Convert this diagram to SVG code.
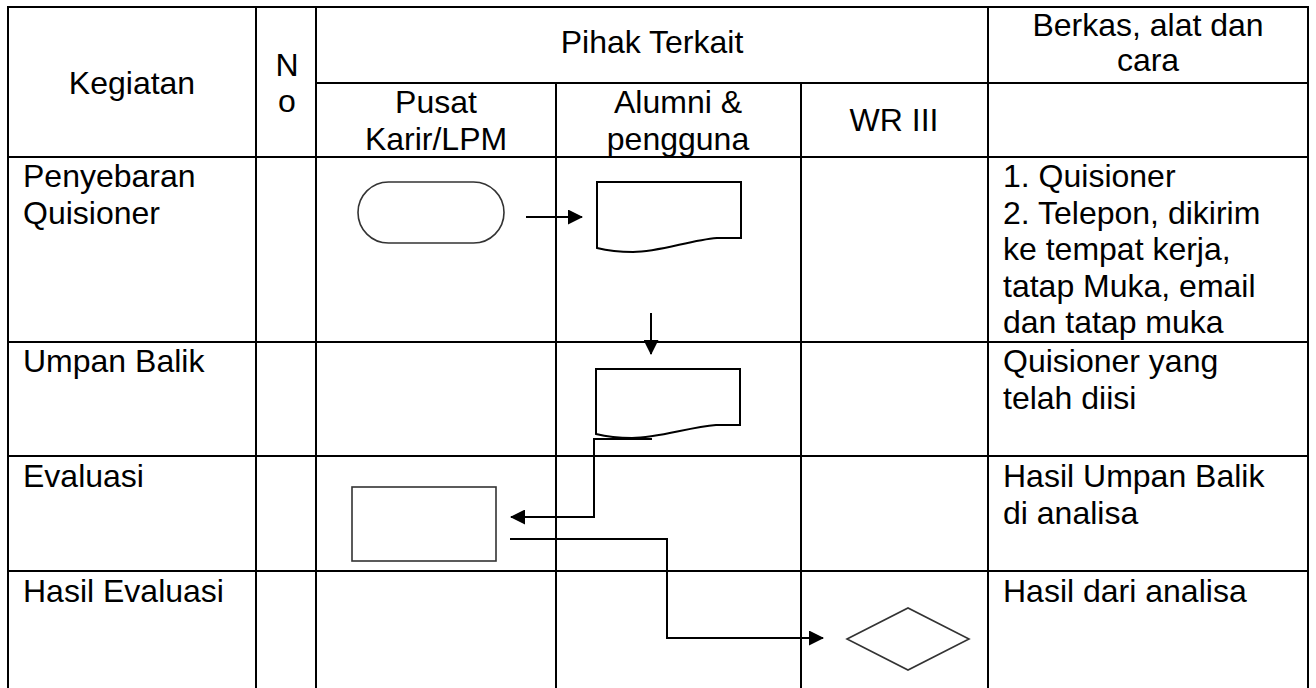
<svg xmlns="http://www.w3.org/2000/svg" width="1316" height="688" viewBox="0 0 1316 688">
<style>
.t{font-family:"Liberation Sans",Arial,sans-serif;font-size:32px;fill:#000}
.c{text-anchor:middle}
.grid line{stroke:#000;stroke-width:2}
.shape{fill:#fff;stroke:#000;stroke-width:2}
.shape2{fill:#fff;stroke:#333;stroke-width:1.6}
.conn{fill:none;stroke:#000;stroke-width:2}
</style>
<defs>
<marker id="ah" markerUnits="userSpaceOnUse" markerWidth="15" markerHeight="15" viewBox="0 0 15 15" refX="14" refY="7.5" orient="auto">
<path d="M0,0 L15,7.5 L0,15 z" fill="#000"/>
</marker>
</defs>
<rect width="1316" height="688" fill="#fff"/>
<g id="table" class="grid">
<line x1="7" y1="7" x2="1309" y2="7"/>
<line x1="316" y1="83" x2="1309" y2="83"/>
<line x1="7" y1="157" x2="1309" y2="157"/>
<line x1="7" y1="342" x2="1309" y2="342"/>
<line x1="7" y1="456" x2="1309" y2="456"/>
<line x1="7" y1="571" x2="1309" y2="571"/>
<line x1="8" y1="6" x2="8" y2="688"/>
<line x1="256" y1="6" x2="256" y2="688"/>
<line x1="316" y1="6" x2="316" y2="688"/>
<line x1="556" y1="83" x2="556" y2="688"/>
<line x1="801" y1="83" x2="801" y2="688"/>
<line x1="988" y1="6" x2="988" y2="688"/>
<line x1="1308" y1="6" x2="1308" y2="688"/>
</g>
<g id="header">
<text class="t c" x="132" y="94">Kegiatan</text>
<text class="t c" x="287" y="76">N</text>
<text class="t c" x="287" y="112">o</text>
<text class="t c" x="652" y="53">Pihak Terkait</text>
<text class="t c" x="1148" y="36">Berkas, alat dan</text>
<text class="t c" x="1148" y="71">cara</text>
<text class="t c" x="436" y="113">Pusat</text>
<text class="t c" x="436" y="150">Karir/LPM</text>
<text class="t c" x="678" y="113">Alumni &amp;</text>
<text class="t c" x="678" y="150">pengguna</text>
<text class="t c" x="894" y="131">WR III</text>
</g>
<g id="activities">
<text class="t" x="23" y="187">Penyebaran</text>
<text class="t" x="23" y="224">Quisioner</text>
<text class="t" x="23" y="372">Umpan Balik</text>
<text class="t" x="23" y="487">Evaluasi</text>
<text class="t" x="23" y="602">Hasil Evaluasi</text>
</g>
<g id="berkas">
<text class="t" x="1003" y="187">1. Quisioner</text>
<text class="t" x="1003" y="223.5">2. Telepon, dikirim</text>
<text class="t" x="1003" y="260">ke tempat kerja,</text>
<text class="t" x="1003" y="296.5">tatap Muka, email</text>
<text class="t" x="1003" y="333">dan tatap muka</text>
<text class="t" x="1003" y="372">Quisioner yang</text>
<text class="t" x="1003" y="408.5">telah diisi</text>
<text class="t" x="1003" y="487">Hasil Umpan Balik</text>
<text class="t" x="1003" y="523.5">di analisa</text>
<text class="t" x="1003" y="602">Hasil dari analisa</text>
</g>
<g id="start">
<rect class="shape2" x="358" y="182" width="146" height="61" rx="30.5" ry="30.5"/>
</g>
<g id="doc1">
<path class="shape" d="M597,182 H741 V238 H717 C690,240 660,252 633,252 C615,252 605,250 597,248 Z"/>
</g>
<g id="doc2">
<path class="shape" d="M596,369 H740 V425 H716 C689,427 659,438 632,438 C614,438 604,436 596,434 Z"/>
</g>
<g id="evaluasi">
<rect class="shape2" x="352" y="487" width="144" height="74"/>
</g>
<g id="decision">
<polygon class="shape2" points="847,639 908,608 969,639 908,670"/>
</g>
<g id="connectors">
<path class="conn" d="M526,217 H582" marker-end="url(#ah)"/>
<path class="conn" d="M651,313 V354" marker-end="url(#ah)"/>
<path class="conn" d="M652,439 H594 V517 H511" marker-end="url(#ah)"/>
<path class="conn" d="M510,539 H667 V638 H823" marker-end="url(#ah)"/>
</g>
</svg>
